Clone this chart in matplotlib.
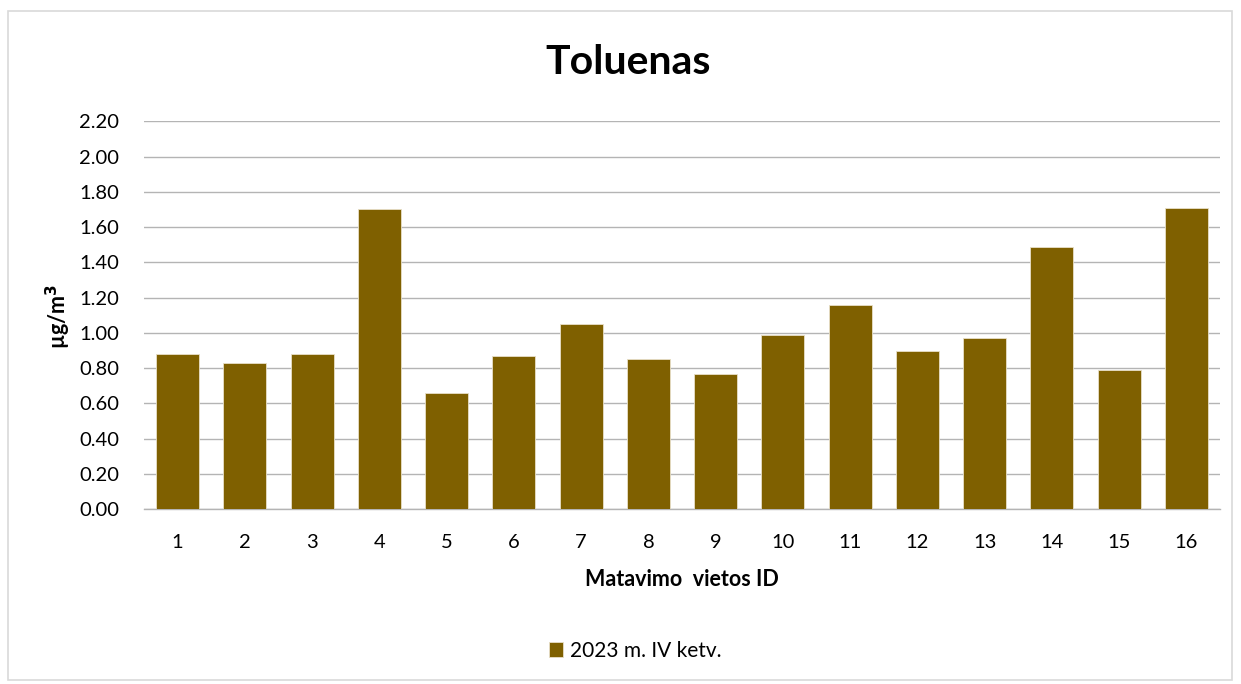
import matplotlib
matplotlib.use("Agg")
import matplotlib.pyplot as plt
from matplotlib.patches import Rectangle

categories = [str(i) for i in range(1, 17)]
values = [0.88, 0.83, 0.88, 1.70, 0.66, 0.87, 1.05, 0.85,
          0.77, 0.99, 1.16, 0.90, 0.97, 1.49, 0.79, 1.71]
yticks = [0.0, 0.2, 0.4, 0.6, 0.8, 1.0, 1.2, 1.4, 1.6, 1.8, 2.0, 2.2]
series_name = "2023 m. IV ketv."
title = "Toluenas"
xlabel = "Matavimo  vietos ID"
ylabel = "µg/m$^\\mathbf{3}$"

plt.rcParams['font.family'] = ['Lato', 'DejaVu Sans']

fig = plt.figure(figsize=(12.41, 6.84), dpi=100)
fig.patches.append(Rectangle((8/1241, 1 - 680/684), 1224/1241, 669/684,
                             transform=fig.transFigure, fill=False,
                             edgecolor='#d9d9d9', linewidth=1.2))

ax = fig.add_axes([144/1241, 1 - 509.3/684, 1076/1241, 388/684])
x = range(len(categories))
ax.bar(x, values, width=0.64, color='#7f6000', edgecolor='#e8e0c8',
       linewidth=0.6, label=series_name, zorder=3)
ax.set_xlim(-0.5, len(categories) - 0.5)
ax.set_ylim(0, 2.2)
ax.set_yticks(yticks)
ax.set_yticklabels([f"{v:.2f}" for v in yticks], fontsize=14.5, color='#000000')
ax.set_xticks(list(x))
ax.set_xticklabels(categories, fontsize=14.5)
ax.tick_params(axis='both', length=0)
ax.tick_params(axis='y', pad=18)
ax.tick_params(axis='x', pad=18)
ax.grid(axis='y', color='#b4b4b4', linewidth=1.0, zorder=0)
for s in ['top', 'right', 'left']:
    ax.spines[s].set_visible(False)
ax.spines['bottom'].set_color('#b4b4b4')
ax.spines['bottom'].set_linewidth(1.0)

fig.text(628/1241, 1 - 62/684, title, ha='center', va='center',
         fontsize=29.5, fontweight='bold')
fig.text(682/1241, 1 - 580/684, xlabel, ha='center', va='center',
         fontsize=15.5, fontweight='bold')
fig.text(58/1241, 1 - 316/684, ylabel, ha='center', va='center',
         rotation=90, fontsize=15.5, fontweight='bold')

handles, labels = ax.get_legend_handles_labels()
fig.legend(handles, labels, loc='center', bbox_to_anchor=(635/1241, 1 - 651/684),
           frameon=False, fontsize=15, handlelength=0.7, handleheight=0.7,
           handletextpad=0.3)

fig.savefig("out.png", dpi=100, facecolor='white')
